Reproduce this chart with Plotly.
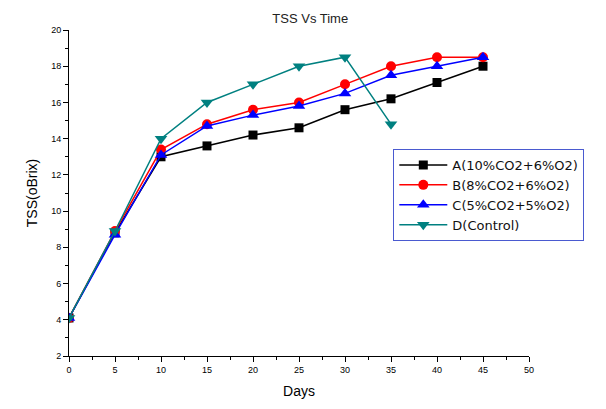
import plotly.graph_objects as go

days = [0, 5, 10, 15, 20, 25, 30, 35, 40, 45]
days_d = [0, 5, 10, 15, 20, 25, 30, 35]
a_vals = [4.1, 8.8, 13.0, 13.6, 14.2, 14.6, 15.6, 16.2, 17.1, 18.0]
b_vals = [4.1, 8.9, 13.4, 14.8, 15.6, 16.0, 17.0, 18.0, 18.5, 18.5]
c_vals = [4.1, 8.7, 13.1, 14.7, 15.3, 15.8, 16.5, 17.5, 18.0, 18.5]
d_vals = [4.1, 8.9, 14.0, 16.0, 17.0, 18.0, 18.5, 14.8]
names = ["A(10%CO2+6%O2)", "B(8%CO2+6%O2)", "C(5%CO2+5%O2)", "D(Control)"]

fig = go.Figure()
specs = [
    (days, a_vals, names[0], "black", "square", 9),
    (days, b_vals, names[1], "#ff0000", "circle", 10),
    (days, c_vals, names[2], "#0000ff", "triangle-up", 11),
    (days_d, d_vals, names[3], "#008080", "triangle-down", 11),
]
for x, y, n, col, sym, sz in specs:
    fig.add_trace(go.Scatter(x=x, y=y, name=n, mode="lines+markers",
                             line=dict(color=col, width=1.5),
                             marker=dict(symbol=sym, size=sz, color=col)))

fig.update_layout(
    width=606, height=409,
    margin=dict(l=69, r=77, t=30, b=49),
    paper_bgcolor="white", plot_bgcolor="white",
    font=dict(family="Liberation Sans, Arial", color="black"),
    title=dict(text="TSS Vs Time", x=0.512, xanchor="center", y=0.955, yanchor="middle",
               font=dict(size=13, color="#222")),
    showlegend=True,
    legend=dict(x=0.705, y=0.635, xanchor="left", yanchor="top",
                bordercolor="#4a5ad0", borderwidth=1, bgcolor="white",
                font=dict(size=13, color="#111", family="DejaVu Sans"), tracegroupgap=0,
                itemwidth=48),
)
fig.update_xaxes(range=[0, 50], tickvals=list(range(0, 55, 5)),
                 showline=True, linecolor="black", linewidth=1,
                 ticks="outside", ticklen=5, tickcolor="black",
                 minor=dict(dtick=2.5, ticks="outside", ticklen=3, tickcolor="black"),
                 showgrid=False, zeroline=False,
                 tickfont=dict(size=9),
                 title=dict(text="Days", font=dict(size=14), standoff=12))
fig.update_yaxes(range=[2, 20], tickvals=list(range(2, 22, 2)),
                 showline=True, linecolor="black", linewidth=1,
                 ticks="outside", ticklen=5, tickcolor="black",
                 minor=dict(dtick=1, ticks="outside", ticklen=3, tickcolor="black"),
                 showgrid=False, zeroline=False,
                 tickfont=dict(size=9),
                 title=dict(text="TSS(oBrix)", font=dict(size=14), standoff=10))

fig.write_html("out.html")
